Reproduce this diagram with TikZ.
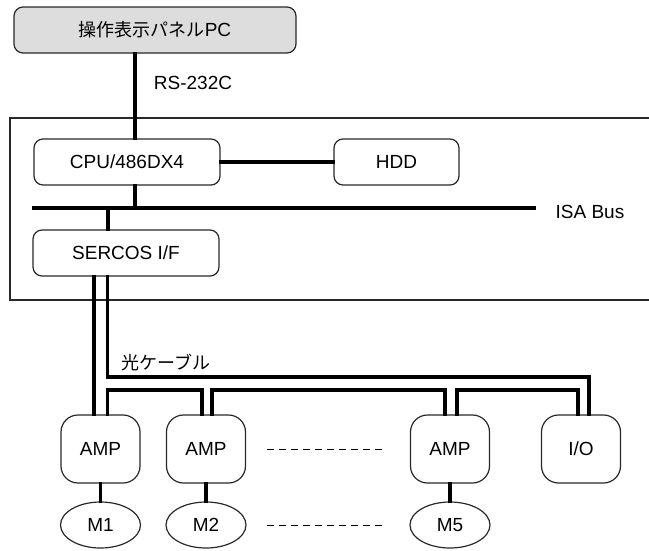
\documentclass[tikz,border=0pt]{standalone}
\usepackage{fontspec}
\setmainfont{Liberation Sans}
\newfontfamily\jpfont{Noto Sans CJK JP}
\usepackage{xcolor}
\definecolor{panelgray}{RGB}{221, 221, 221}
\definecolor{edge}{RGB}{40, 40, 40}
\usetikzlibrary{calc,shapes,positioning}
\newcommand{\jp}[1]{{\jpfont\fontsize{18}{20}\selectfont #1}}

\tikzset{
  unitbox/.style={draw=edge, line width=1.2pt, rounded corners=9pt, inner sep=0pt,
    minimum width=186pt, minimum height=46pt, font=\fontsize{19}{22}\selectfont},
  ampbox/.style={draw=edge, line width=1.2pt, rounded corners=17pt, inner sep=0pt,
    minimum width=79pt, minimum height=68pt, font=\fontsize{19}{22}\selectfont},
  motor/.style={draw=edge, line width=1.2pt, ellipse, inner sep=0pt,
    minimum width=80pt, minimum height=46pt, font=\fontsize{19}{22}\selectfont},
  cable/.style={line width=3.8pt, line cap=rect, line join=miter},
  dots/.style={line width=1pt, dash pattern=on 7pt off 5pt},
  lbl/.style={font=\fontsize{19}{22}\selectfont, inner sep=0pt}
}

\begin{document}
\begin{tikzpicture}[x=1pt, y=-1pt]
  \useasboundingbox (0,0) rectangle (649,550);

  % controller housing (open to the right)
  \draw[edge, line width=1.6pt] (649,118) -- (10,118) -- (10,300) -- (649,300);

  % units
  \node[unitbox, fill=panelgray, minimum width=282pt] (panel) at (155,30)
    {\jp{操作表示パネル}PC};
  \node[unitbox] (cpu) at (127,162) {CPU/486DX4};
  \node[unitbox, minimum width=125pt] (hdd) at (396.5,162) {HDD};
  \node[unitbox] (sercos) at (126,253) {SERCOS I/F};

  \node[ampbox] (amp1) at (100.5,449) {AMP};
  \node[ampbox] (amp2) at (206,449) {AMP};
  \node[ampbox] (amp3) at (450,449) {AMP};
  \node[ampbox] (io) at (581,449) {I/O};

  \node[motor] (m1) at (100.5,525) {M1};
  \node[motor] (m2) at (206,525) {M2};
  \node[motor] (m5) at (450,525) {M5};

  % labels
  \node[lbl] (rs) at (193,83) {RS-232C};
  \node[lbl] (isa) at (590,212) {ISA Bus};
  \node[inner sep=0pt] (optic) at (166,363) {\jp{光ケーブル}};

  % bus and fixed points
  \coordinate (isaL) at (34,208);
  \coordinate (isaR) at (534,208);
  \coordinate (rsx) at (135,0);
  \coordinate (busx) at (108,0);
  \coordinate (ringA) at (0,377);
  \coordinate (ringB) at (0,390);

  \draw[cable] (isaL) -- (isaR);
  \draw[cable] (panel.south -| rsx) -- (cpu.north -| rsx);
  \draw[cable] (cpu.east) -- (hdd.west);
  \draw[cable] (cpu.south -| rsx) -- (isaL -| rsx);
  \draw[cable] (isaL -| busx) -- (sercos.north -| busx);

  % optical ring
  \draw[cable] ([xshift=-6.5pt]sercos.south -| amp1) -- ([xshift=-6.5pt]amp1.north);
  \draw[cable] ([xshift=7pt]sercos.south -| amp1) -- ([xshift=7pt]amp1.north |- ringA)
    -- ([xshift=8pt]io.north |- ringA) -- ([xshift=8pt]io.north);
  \draw[cable] ([xshift=7pt]amp1.north) -- ([xshift=7pt]amp1.north |- ringB)
    -- ([xshift=-4pt]amp2.north |- ringB) -- ([xshift=-4pt]amp2.north);
  \draw[cable] ([xshift=6pt]amp2.north) -- ([xshift=6pt]amp2.north |- ringB)
    -- ([xshift=-5pt]amp3.north |- ringB) -- ([xshift=-5pt]amp3.north);
  \draw[cable] ([xshift=7pt]amp3.north) -- ([xshift=7pt]amp3.north |- ringB)
    -- ([xshift=-3pt]io.north |- ringB) -- ([xshift=-3pt]io.north);

  % amp to motor
  \draw[cable] (amp1.south) -- (m1.north);
  \draw[cable] (amp2.south) -- (m2.north);
  \draw[cable] (amp3.south) -- (m5.north);

  % omitted axes
  \draw[dots] (amp2.east -| 267,0) -- (amp3.west -| 383,0);
  \draw[dots] (m2.east -| 267,0) -- (m5.west -| 383,0);
\end{tikzpicture}
\end{document}
